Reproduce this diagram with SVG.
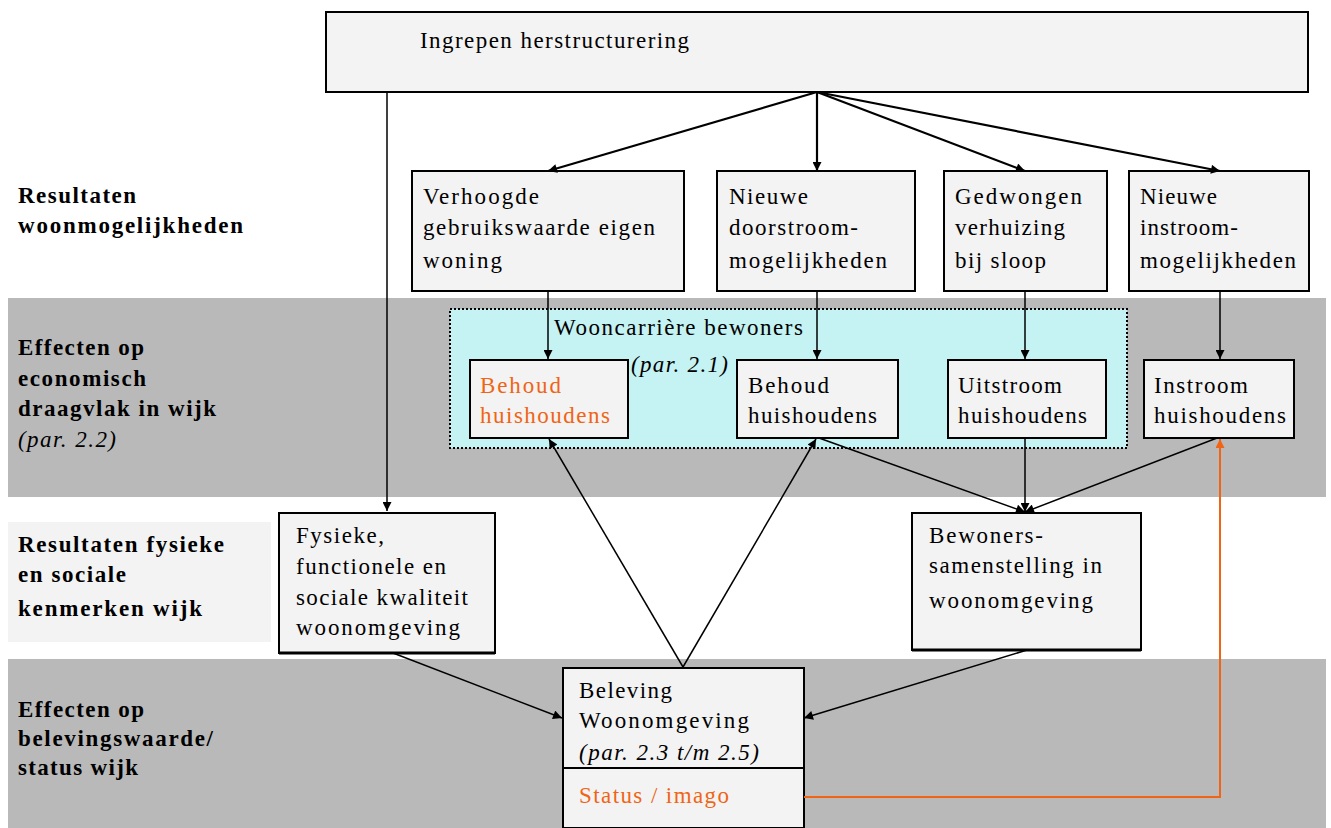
<svg xmlns="http://www.w3.org/2000/svg" width="1331" height="828" viewBox="0 0 1331 828">
<style>
text{font-family:"Liberation Serif","Times New Roman",serif;font-size:23px;fill:#000}
.b{font-weight:bold}
.i{font-style:italic}
.o{fill:#f06414}
.box{fill:#f3f3f3;stroke:#000;stroke-width:2}
.band{fill:#b9b9b9}
.c{stroke:#000;fill:none}
.thick{stroke-width:2.2}
.thin{stroke-width:1.5}
</style>
<defs>
<marker id="ah" viewBox="0 0 10 10" refX="10" refY="5" markerWidth="10" markerHeight="9" markerUnits="userSpaceOnUse" orient="auto"><path d="M0,0 L10,5 L0,10 z" fill="#000"/></marker>
<marker id="aho" viewBox="0 0 10 10" refX="10" refY="5" markerWidth="10" markerHeight="9" markerUnits="userSpaceOnUse" orient="auto"><path d="M0,0 L10,5 L0,10 z" fill="#f06414"/></marker>
</defs>
<rect width="1331" height="828" fill="#fff"/>
<g id="bands">
<rect class="band" x="8" y="298" width="1318" height="199"/>
<rect x="8" y="522" width="263" height="120" fill="#f3f3f3"/>
<rect class="band" x="8" y="659" width="1318" height="169"/>
</g>
<g id="labels">
<text class="b" x="18" y="203" textLength="118" lengthAdjust="spacing">Resultaten</text>
<text class="b" x="18" y="233" textLength="225" lengthAdjust="spacing">woonmogelijkheden</text>
<text class="b" x="18" y="355" textLength="126" lengthAdjust="spacing">Effecten op</text>
<text class="b" x="18" y="386" textLength="128" lengthAdjust="spacing">economisch</text>
<text class="b" x="18" y="416" textLength="198" lengthAdjust="spacing">draagvlak in wijk</text>
<text class="i" x="18" y="447" textLength="98" lengthAdjust="spacing">(par. 2.2)</text>
<text class="b" x="18" y="552" textLength="206" lengthAdjust="spacing">Resultaten fysieke</text>
<text class="b" x="18" y="582" textLength="108" lengthAdjust="spacing">en sociale</text>
<text class="b" x="18" y="616" textLength="184" lengthAdjust="spacing">kenmerken wijk</text>
<text class="b" x="18" y="717" textLength="126" lengthAdjust="spacing">Effecten op</text>
<text class="b" x="18" y="746" textLength="195" lengthAdjust="spacing">belevingswaarde/</text>
<text class="b" x="18" y="775" textLength="120" lengthAdjust="spacing">status wijk</text>
</g>
<g id="wooncarriere">
<rect x="450" y="309" width="677" height="139" fill="#c5f2f2" stroke="#000" stroke-width="2" stroke-dasharray="2 2"/>
<text x="554" y="335" textLength="249" lengthAdjust="spacing">Wooncarrière bewoners</text>
<text class="i" x="631" y="372" textLength="97" lengthAdjust="spacing">(par. 2.1)</text>
</g>
<g id="ingrepen">
<rect class="box" x="326" y="12" width="982" height="80"/>
<text x="420" y="48" textLength="269" lengthAdjust="spacing">Ingrepen herstructurering</text>
</g>
<g id="verhoogde">
<rect class="box" x="412" y="171" width="272" height="120"/>
<text x="423" y="204" textLength="116" lengthAdjust="spacing">Verhoogde</text>
<text x="423" y="235" textLength="232" lengthAdjust="spacing">gebruikswaarde eigen</text>
<text x="423" y="268" textLength="79" lengthAdjust="spacing">woning</text>
</g>
<g id="doorstroom">
<rect class="box" x="717" y="171" width="198" height="120"/>
<text x="729" y="204" textLength="79" lengthAdjust="spacing">Nieuwe</text>
<text x="729" y="235" textLength="129" lengthAdjust="spacing">doorstroom-</text>
<text x="729" y="268" textLength="158" lengthAdjust="spacing">mogelijkheden</text>
</g>
<g id="gedwongen">
<rect class="box" x="944" y="171" width="163" height="120"/>
<text x="955" y="204" textLength="127" lengthAdjust="spacing">Gedwongen</text>
<text x="955" y="235" textLength="110" lengthAdjust="spacing">verhuizing</text>
<text x="955" y="268" textLength="91" lengthAdjust="spacing">bij sloop</text>
</g>
<g id="instroommog">
<rect class="box" x="1129" y="171" width="180" height="120"/>
<text x="1140" y="204" textLength="77" lengthAdjust="spacing">Nieuwe</text>
<text x="1140" y="235" textLength="98" lengthAdjust="spacing">instroom-</text>
<text x="1140" y="268" textLength="156" lengthAdjust="spacing">mogelijkheden</text>
</g>
<g id="behoud1">
<rect class="box" x="470" y="360" width="158" height="78"/>
<text class="o" x="480" y="393" textLength="81" lengthAdjust="spacing">Behoud</text>
<text class="o" x="480" y="423" textLength="130" lengthAdjust="spacing">huishoudens</text>
</g>
<g id="behoud2">
<rect class="box" x="737" y="360" width="161" height="78"/>
<text x="748" y="393" textLength="81" lengthAdjust="spacing">Behoud</text>
<text x="748" y="423" textLength="129" lengthAdjust="spacing">huishoudens</text>
</g>
<g id="uitstroom">
<rect class="box" x="948" y="360" width="158" height="78"/>
<text x="958" y="393" textLength="104" lengthAdjust="spacing">Uitstroom</text>
<text x="958" y="423" textLength="129" lengthAdjust="spacing">huishoudens</text>
</g>
<g id="instroom">
<rect class="box" x="1144" y="360" width="150" height="78"/>
<text x="1154" y="393" textLength="94" lengthAdjust="spacing">Instroom</text>
<text x="1154" y="423" textLength="132" lengthAdjust="spacing">huishoudens</text>
</g>
<g id="fysieke">
<rect class="box" x="279" y="513" width="216" height="140"/>
<line x1="279" y1="653" x2="495" y2="653" stroke="#000" stroke-width="3"/>
<text x="296" y="543" textLength="88" lengthAdjust="spacing">Fysieke,</text>
<text x="296" y="574" textLength="150" lengthAdjust="spacing">functionele en</text>
<text x="296" y="605" textLength="172" lengthAdjust="spacing">sociale kwaliteit</text>
<text x="296" y="635" textLength="164" lengthAdjust="spacing">woonomgeving</text>
</g>
<g id="bewoners">
<rect class="box" x="912" y="513" width="229" height="137"/>
<line x1="912" y1="650" x2="1141" y2="650" stroke="#000" stroke-width="3"/>
<text x="929" y="543" textLength="114" lengthAdjust="spacing">Bewoners-</text>
<text x="929" y="573" textLength="173" lengthAdjust="spacing">samenstelling in</text>
<text x="929" y="608" textLength="164" lengthAdjust="spacing">woonomgeving</text>
</g>
<g id="beleving">
<rect class="box" x="563" y="668" width="241" height="160"/>
<line x1="563" y1="768" x2="804" y2="768" stroke="#000" stroke-width="2"/>
<text x="579" y="698" textLength="93" lengthAdjust="spacing">Beleving</text>
<text x="579" y="728" textLength="170" lengthAdjust="spacing">Woonomgeving</text>
<text class="i" x="579" y="760" textLength="180" lengthAdjust="spacing">(par. 2.3 t/m 2.5)</text>
<text class="o" x="579" y="803" textLength="150" lengthAdjust="spacing">Status / imago</text>
</g>
<g id="connectors">
<line class="c thick" x1="817" y1="92" x2="548" y2="171" marker-end="url(#ah)"/>
<line class="c thick" x1="817" y1="92" x2="817" y2="171" marker-end="url(#ah)"/>
<line class="c thick" x1="817" y1="92" x2="1025" y2="171" marker-end="url(#ah)"/>
<line class="c thick" x1="817" y1="92" x2="1220" y2="171" marker-end="url(#ah)"/>
<line class="c thin" x1="387" y1="92" x2="387" y2="511" marker-end="url(#ah)"/>
<line class="c thin" x1="548" y1="291" x2="548" y2="359" marker-end="url(#ah)"/>
<line class="c thin" x1="817" y1="291" x2="817" y2="359" marker-end="url(#ah)"/>
<line class="c thin" x1="1025" y1="291" x2="1025" y2="359" marker-end="url(#ah)"/>
<line class="c thin" x1="1220" y1="291" x2="1220" y2="359" marker-end="url(#ah)"/>
<line class="c thin" x1="683" y1="667" x2="549" y2="439" marker-end="url(#ah)"/>
<line class="c thin" x1="683" y1="667" x2="816" y2="439" marker-end="url(#ah)"/>
<line class="c thin" x1="819" y1="438" x2="1025" y2="512" marker-end="url(#ah)"/>
<line class="c thin" x1="1025" y1="438" x2="1025" y2="512" marker-end="url(#ah)"/>
<line class="c thin" x1="1217" y1="438" x2="1025" y2="512" marker-end="url(#ah)"/>
<line class="c thin" x1="393" y1="653" x2="562" y2="718" marker-end="url(#ah)"/>
<line class="c thin" x1="1027" y1="650" x2="804" y2="718" marker-end="url(#ah)"/>
<polyline points="804,797 1220,797 1220,439" fill="none" stroke="#f06414" stroke-width="2" marker-end="url(#aho)"/>
</g>
</svg>
